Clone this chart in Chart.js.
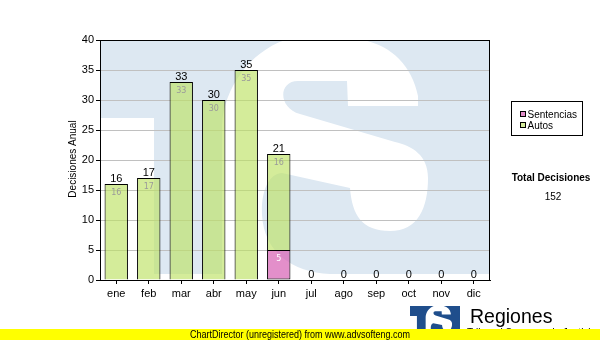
<!DOCTYPE html>
<html><head><meta charset="utf-8">
<style>html,body{margin:0;padding:0;background:#fff;}canvas{display:block;}</style>
<script src="https://cdn.jsdelivr.net/npm/chart.js@4.4.0/dist/chart.umd.min.js"></script>
</head><body>
<canvas id="c" width="600" height="340"></canvas>
<script>
const categories = ['ene','feb','mar','abr','may','jun','jul','ago','sep','oct','nov','dic'];
const sentencias = [0,0,0,0,0,5,0,0,0,0,0,0];
const autos = [16,17,33,30,35,16,0,0,0,0,0,0];
const yTicks = [0,5,10,15,20,25,30,35,40];
const seriesNames = ['Sentencias','Autos'];
const yTitle = 'Decisiones Anual';
const totalTitle = 'Total Decisiones';
const footerText = 'ChartDirector (unregistered) from www.advsofteng.com';
const logoTitle = 'Regiones';
const logoSub = 'Tribunal Supremo de Justicia';

const totals = categories.map((_, i) => sentencias[i] + autos[i]);
const grandTotal = totals.reduce((a, b) => a + b, 0);

const AUTOS_BAR = 'rgba(189,226,100,0.65)';
const SENT_BAR = 'rgba(215,95,180,0.7)';
const AUTOS_SW = '#d4ec9a';
const SENT_SW = '#e08cc8';
const SANS = '"Liberation Sans", Arial, sans-serif';

// Logo artwork drawn in a 390 x 240 design box, then scaled to where it goes.
function drawMark(ctx, L, T, W, H, color) {
  ctx.save();
  ctx.beginPath(); ctx.rect(L, T, W, H); ctx.clip();
  ctx.translate(L, T);
  ctx.scale(W / 390, H / 240);
  ctx.translate(-100, -40);
  ctx.fillStyle = color;
  // T crossbar + upper-left part + stem
  ctx.beginPath();
  ctx.moveTo(90, 30);
  ctx.lineTo(290, 30);
  ctx.lineTo(285, 40);
  ctx.bezierCurveTo(250, 52, 224, 88, 222, 125);
  ctx.lineTo(222, 274);
  ctx.lineTo(154, 274);
  ctx.lineTo(154, 118);
  ctx.lineTo(90, 118);
  ctx.closePath();
  ctx.fill();
  // S body
  ctx.beginPath();
  ctx.moveTo(363, 30);
  ctx.lineTo(500, 30);
  ctx.lineTo(500, 274);
  ctx.lineTo(330, 274);
  ctx.bezierCurveTo(292, 272, 264, 252, 262, 215);
  ctx.bezierCurveTo(261, 192, 268, 174, 282, 173);
  ctx.lineTo(350, 188);
  ctx.bezierCurveTo(352, 215, 362, 231, 390, 231);
  ctx.bezierCurveTo(418, 231, 428, 208, 428, 178);
  ctx.bezierCurveTo(428, 155, 412, 146, 395, 142);
  ctx.lineTo(300, 114);
  ctx.bezierCurveTo(278, 108, 278, 81, 298, 81);
  ctx.lineTo(347, 81);
  ctx.lineTo(348, 106);
  ctx.lineTo(418, 106);
  ctx.lineTo(418, 96);
  ctx.bezierCurveTo(412, 66, 392, 46, 363, 40);
  ctx.closePath();
  ctx.fill();
  ctx.restore();
}

const decor = {
  id: 'decor',
  beforeDraw(chart) {
    const ctx = chart.ctx, a = chart.chartArea;
    ctx.save();
    ctx.fillStyle = '#fff';
    ctx.fillRect(0, 0, chart.width, chart.height);
    ctx.restore();
    drawMark(ctx, a.left, a.top, a.right - a.left, a.bottom - a.top, '#dde8f2');
  },
  afterDatasetsDraw(chart) {
    const ctx = chart.ctx, ys = chart.scales.y;
    ctx.save();
    ctx.textAlign = 'center';
    [sentencias, autos].forEach((arr, di) => {
      const meta = chart.getDatasetMeta(di);
      meta.data.forEach((el, i) => {
        if (!arr[i]) return;
        ctx.font = '8px "DejaVu Sans", sans-serif';
        ctx.fillStyle = di === 0 ? '#ffffff' : '#9a9a9a';
        ctx.textBaseline = 'top';
        ctx.fillText(String(arr[i]), el.x, el.y + 5);
      });
    });
    ctx.font = '11px ' + SANS;
    ctx.fillStyle = '#000';
    ctx.textBaseline = 'alphabetic';
    totals.forEach((t, i) => {
      const x = chart.scales.x.getPixelForValue(i);
      const y = ys.getPixelForValue(t);
      ctx.fillText(String(t), x, y - 2.5);
    });
    ctx.restore();
  },
  afterDraw(chart) {
    const ctx = chart.ctx, a = chart.chartArea;
    ctx.save();
    ctx.strokeStyle = '#000'; ctx.lineWidth = 1;
    ctx.strokeRect(Math.round(a.left) + 0.5, Math.round(a.top) + 0.5,
      Math.round(a.right - a.left) - 1, Math.round(a.bottom - a.top));
    // y title
    ctx.save();
    ctx.translate(76, (a.top + a.bottom) / 2 - 1);
    ctx.rotate(-Math.PI / 2);
    ctx.font = '10px ' + SANS; ctx.fillStyle = '#000';
    ctx.textAlign = 'center'; ctx.textBaseline = 'alphabetic';
    ctx.fillText(yTitle, 0, 0);
    ctx.restore();
    // legend
    ctx.strokeRect(511.5, 101.5, 71, 34);
    const sw = [SENT_SW, AUTOS_SW];
    seriesNames.forEach((n, i) => {
      const y = Math.round(111 + i * 10.5);
      ctx.fillStyle = sw[i];
      ctx.fillRect(520, y, 6, 6);
      ctx.strokeRect(520.5, y + 0.5, 5, 5);
      ctx.fillStyle = '#000';
      ctx.font = '10px ' + SANS;
      ctx.textAlign = 'left'; ctx.textBaseline = 'alphabetic';
      ctx.fillText(n, 527.5, y + 6.5);
    });
    // totals block
    ctx.textAlign = 'center';
    ctx.font = 'bold 10px ' + SANS;
    ctx.fillText(totalTitle, 551, 180.5);
    ctx.font = '10px ' + SANS;
    ctx.fillText(String(grandTotal), 553, 200);
    // logo
    drawMark(ctx, 410, 306, 50, 31, '#1f4e8c');
    ctx.fillStyle = '#000';
    ctx.textAlign = 'left';
    ctx.font = '19.5px ' + SANS;
    ctx.fillText(logoTitle, 470, 322.5);
    ctx.font = '10px ' + SANS;
    ctx.fillText(logoSub, 467, 336);
    // footer bar
    ctx.fillStyle = '#ffff00';
    ctx.fillRect(0, 329, 600, 11);
    ctx.fillStyle = '#000';
    ctx.font = '10px ' + SANS;
    ctx.fillText(footerText, 190, 338, 220);
    ctx.restore();
  }
};

new Chart(document.getElementById('c'), {
  type: 'bar',
  data: {
    labels: categories,
    datasets: [
      { label: seriesNames[0], data: sentencias.map(v => v || null), backgroundColor: SENT_BAR,
        borderColor: '#000', borderWidth: 1, borderSkipped: false },
      { label: seriesNames[1], data: autos.map(v => v || null), backgroundColor: AUTOS_BAR,
        borderColor: '#000', borderWidth: 1, borderSkipped: 'bottom' }
    ]
  },
  options: {
    responsive: false, animation: false, devicePixelRatio: 1,
    layout: { padding: { left: 0, top: 40, right: 110, bottom: 0 } },
    datasets: { bar: { barPercentage: 0.72, categoryPercentage: 1 } },
    plugins: { legend: { display: false }, title: { display: false }, tooltip: { enabled: false } },
    scales: {
      x: {
        stacked: true, offset: true,
        ticks: { color: '#000', font: { family: 'Liberation Sans', size: 11 }, padding: 3, maxRotation: 0, autoSkip: false },
        grid: { display: true, drawOnChartArea: false, offset: false, tickLength: 4, tickColor: '#000' },
        border: { display: true, color: '#000' },
        afterFit(s) { s.height = 60; }
      },
      y: {
        stacked: true, min: 0, max: 40,
        afterBuildTicks(s) { s.ticks = yTicks.map(v => ({ value: v })); },
        ticks: { color: '#000', font: { family: 'Liberation Sans', size: 11 }, padding: 2 },
        grid: { color: '#c0c0c0', tickColor: '#000', tickLength: 4 },
        border: { display: true, color: '#000' },
        afterFit(s) { s.width = 100; }
      }
    }
  },
  plugins: [decor]
});
</script>
</body></html>
